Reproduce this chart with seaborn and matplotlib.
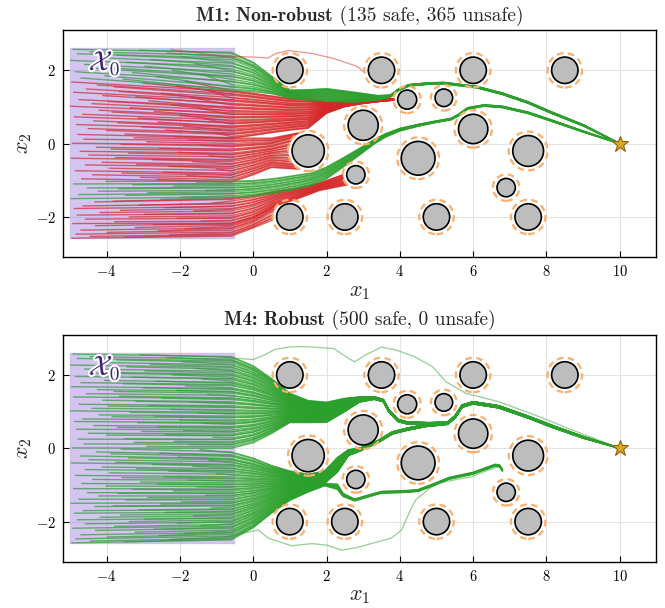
import numpy as np
import pandas as pd
import matplotlib
matplotlib.use("Agg")
import matplotlib.pyplot as plt
import matplotlib.patheffects as pe
from matplotlib.patches import Circle, Rectangle
import seaborn as sns

# ---------------- data ----------------
# obstacles: centre x, centre y, radius
obs_x = [1.0, 3.5, 6.0, 8.5, 4.2, 5.2, 3.0, 6.0, 1.5, 4.5, 7.5, 2.8, 6.9, 1.0, 2.5, 5.0, 7.5]
obs_y = [2.0, 2.0, 2.0, 2.0, 1.2, 1.25, 0.5, 0.4, -0.2, -0.4, -0.2, -0.85, -1.2, -2.0, -2.0, -2.0, -2.0]
obs_r = [0.36, 0.36, 0.36, 0.36, 0.26, 0.24, 0.41, 0.40, 0.44, 0.46, 0.42, 0.25, 0.25, 0.36, 0.36, 0.36, 0.36]
safety_margin = 0.11
goal_x, goal_y = 10.0, 0.0
box_x = [-5.0, -0.5]
box_y = [-2.6, 2.6]

# initial states (left ends of the trajectories), same samples in both panels
start_x = [-4.92, -3.10, -4.45, -2.35, -4.80, -3.72, -1.95, -4.15, -2.80, -4.98,
           -3.45, -1.60, -4.60, -2.95, -3.90, -4.30, -2.20, -4.85, -3.30, -1.40,
           -4.05, -2.65, -4.70, -3.55, -1.85, -4.95, -3.00, -4.25, -2.10, -3.80,
           -4.55, -1.25, -3.65, -4.90, -2.50, -4.10, -3.20, -1.70, -4.75, -2.85,
           -3.95, -4.40, -2.25, -4.99, -3.35, -1.50, -4.20, -2.70, -3.85, -4.65,
           -2.00, -4.88, -3.15, -1.35, -4.35, -2.60, -3.70, -4.82, -1.90, -3.05,
           -4.50, -2.40, -4.00, -1.10, -3.50, -4.78, -2.15, -3.25, -4.62, -1.75,
           -2.90, -4.93, -3.60, -1.45, -4.28, -2.55, -3.88, -4.72, -2.05, -3.40,
           -4.48, -1.20, -3.75, -4.96, -2.75, -1.65, -4.12, -3.18, -4.58, -2.30,
           -3.92, -1.00, -4.85, -2.45, -3.58, -4.38, -1.80, -3.08, -4.68, -2.62,
           -4.02, -1.55, -4.90, -3.28, -2.18, -4.52, -3.68, -1.30, -4.22, -2.88,
           -4.76, -3.48, -1.95, -4.97, -2.52, -3.82, -4.32, -1.15, -3.12, -4.64,
           -2.40, -4.88, -3.62, -1.62, -4.18, -2.98, -4.80, -3.38, -2.08, -4.58,
           -1.42, -3.78, -4.92, -2.72, -4.30, -3.22, -1.88, -4.70, -2.58, -3.98,
           -4.84, -2.28, -4.45, -3.52, -4.95]
start_y = [2.57, 2.55, 2.50, 2.47, 2.45, 2.41, 2.36, 2.34, 2.29, 2.27,
           2.22, 2.18, 2.16, 2.11, 2.07, 2.05, 2.00, 1.96, 1.94, 1.89,
           1.85, 1.83, 1.79, 1.76, 1.70, 1.68, 1.65, 1.60, 1.58, 1.55,
           1.49, 1.47, 1.42, 1.40, 1.37, 1.31, 1.28, 1.26, 1.20, 1.17,
           1.15, 1.09, 1.06, 1.02, 0.98, 0.97, 0.91, 0.88, 0.86, 0.80,
           0.77, 0.73, 0.70, 0.68, 0.62, 0.59, 0.57, 0.52, 0.48, 0.46,
           0.41, 0.37, 0.36, 0.30, 0.26, 0.25, 0.19, 0.16, 0.12, 0.10,
           0.05, 0.01, -0.02, -0.04, -0.10, -0.13, -0.15, -0.21, -0.24, -0.26,
           -0.31, -0.33, -0.38, -0.40, -0.44, -0.49, -0.51, -0.56, -0.58, -0.62,
           -0.67, -0.69, -0.74, -0.78, -0.80, -0.85, -0.87, -0.92, -0.96, -0.98,
           -1.03, -1.05, -1.10, -1.12, -1.16, -1.21, -1.23, -1.28, -1.30, -1.34,
           -1.39, -1.41, -1.46, -1.50, -1.52, -1.57, -1.59, -1.63, -1.68, -1.70,
           -1.75, -1.77, -1.82, -1.84, -1.88, -1.93, -1.95, -2.00, -2.04, -2.06,
           -2.11, -2.13, -2.18, -2.21, -2.24, -2.29, -2.32, -2.36, -2.38, -2.42,
           -2.47, -2.49, -2.53, -2.55, -2.58]

# ---- M1 (non-robust): bundles from top to bottom ----
m1_sizes = [24, 42, 34, 15, 19, 11]
m1_safe = [True, False, False, True, False, False]
m1_ring_obstacle = [None, None, 8, None, 11, 13]
m1_ring_angle = [0, 0, 180, 0, 205, 160]
m1_ring_span = [0, 0, 130, 0, 50, 60]

m1_gup_x = [-0.6, 0.0, 0.5, 0.8, 1.0, 1.5, 2.0, 2.7, 3.4, 3.75, 3.95, 4.25, 4.8, 5.2, 6.1, 6.8, 7.5, 8.1, 9.0, 10.0]
m1_gup_y = [1.97, 1.82, 1.60, 1.45, 1.35, 1.33, 1.33, 1.27, 1.25, 1.30, 1.46, 1.59, 1.64, 1.65, 1.54, 1.36, 1.12, 0.86, 0.50, 0.00]
m1_gup_w = [1.04, 0.80, 0.48, 0.32, 0.22, 0.28, 0.34, 0.28, 0.12, 0.05, 0.04, 0.04, 0.04, 0.04, 0.04, 0.04, 0.04, 0.04, 0.03, 0.0]

m1_rup_x = [-0.6, 0.0, 0.5, 1.0, 1.5, 2.0, 2.5, 3.0, 3.5, 3.83]
m1_rup_y = [0.80, 0.80, 0.80, 0.80, 0.82, 0.98, 1.09, 1.14, 1.18, 1.20]
m1_rup_w = [1.30, 1.15, 1.00, 0.86, 0.80, 0.30, 0.16, 0.09, 0.05, 0.03]

m1_rc9_x = [-0.6, 0.0, 0.5]
m1_rc9_y = [-0.45, -0.35, -0.25]
m1_rc9_w = [1.20, 1.00, 0.80]

m1_glow_x = [-0.6, 0.0, 0.6, 1.2, 1.6, 2.0, 2.4, 2.9, 3.3, 3.6, 4.0, 4.5, 5.0, 5.4, 5.6, 5.85, 6.3, 6.8, 7.5, 8.1, 9.0, 10.0]
m1_glow_y = [-1.25, -1.22, -1.15, -1.05, -0.97, -0.80, -0.55, -0.22, 0.05, 0.22, 0.38, 0.50, 0.60, 0.67, 0.78, 0.96, 1.04, 1.00, 0.84, 0.64, 0.33, 0.00]
m1_glow_w = [0.45, 0.42, 0.40, 0.38, 0.34, 0.32, 0.26, 0.18, 0.12, 0.09, 0.07, 0.05, 0.04, 0.04, 0.04, 0.04, 0.04, 0.04, 0.04, 0.04, 0.03, 0.00]

m1_rc12_x = [-0.6, 0.0, 0.6, 1.2, 1.8]
m1_rc12_y = [-1.85, -1.72, -1.50, -1.36, -1.18]
m1_rc12_w = [0.70, 0.60, 0.40, 0.30, 0.20]

m1_rc14_x = [-0.6, 0.0]
m1_rc14_y = [-2.35, -2.15]
m1_rc14_w = [0.35, 0.30]

m1_out_x = [-2.25, -0.8, 0.0, 0.4, 0.6, 0.95, 1.6, 2.2, 2.85, 3.05]
m1_out_y = [2.57, 2.38, 2.36, 2.33, 2.45, 2.54, 2.46, 2.32, 2.10, 1.93]

# ---- M4 (robust): upper bundle, lower bundle splitting in two branches ----
m4_sizes = [72, 61, 12]

m4_up_x = [-0.6, 0.0, 0.5, 1.0, 1.5, 2.0, 2.5, 2.9, 3.3, 3.55, 3.7, 3.95, 4.2, 4.8, 5.3, 5.5, 5.7, 6.0, 6.7, 7.5, 8.2, 9.0, 10.0]
m4_up_y = [1.25, 1.20, 1.15, 1.10, 1.00, 0.98, 1.18, 1.33, 1.37, 1.30, 1.02, 0.76, 0.69, 0.67, 0.69, 0.85, 1.15, 1.24, 1.13, 0.85, 0.58, 0.30, 0.00]
m4_up_w = [2.50, 2.10, 1.50, 0.80, 0.60, 0.55, 0.36, 0.14, 0.07, 0.06, 0.06, 0.06, 0.06, 0.06, 0.06, 0.06, 0.06, 0.06, 0.06, 0.05, 0.05, 0.04, 0.00]

m4_low_x = [-0.6, 0.0, 0.5, 1.0, 1.5, 1.95]
m4_low_y = [-1.30, -1.22, -1.12, -1.02, -0.95, -0.82]
m4_low_w = [2.40, 1.90, 1.30, 0.80, 0.48, 0.40]

m4_lowa_x = [2.3, 2.6, 2.9, 3.4, 3.8, 4.2, 4.7, 5.3]
m4_lowa_y = [-0.45, -0.12, -0.04, 0.18, 0.42, 0.52, 0.62, 0.68]
m4_lowa_w = [0.40, 0.16, 0.08, 0.06, 0.06, 0.06, 0.06, 0.06]

m4_lowb_x = [2.3, 2.45, 2.77, 3.14, 3.5, 4.14, 4.5, 4.9, 5.34, 6.0, 6.6, 6.72, 6.8]
m4_lowb_y = [-1.05, -1.27, -1.41, -1.30, -1.20, -1.18, -1.15, -1.00, -0.82, -0.68, -0.46, -0.48, -0.60]
m4_lowb_w = [0.15, 0.08, 0.05, 0.05, 0.05, 0.05, 0.05, 0.05, 0.05, 0.05, 0.05, 0.05, 0.05]

m4_outtop_x = [-0.8, 0.0, 0.32, 0.6, 1.05, 1.5, 2.2, 2.6, 2.77, 3.05, 3.5, 3.9, 4.4, 4.9, 5.25, 5.8, 6.7, 7.7, 8.7, 10.0]
m4_outtop_y = [2.48, 2.42, 2.55, 2.70, 2.77, 2.77, 2.72, 2.45, 2.36, 2.54, 2.76, 2.68, 2.50, 2.22, 1.82, 1.50, 1.27, 0.90, 0.50, 0.00]
m4_outbot_x = [-0.8, 0.14, 0.41, 1.05, 1.6, 2.0, 2.43, 2.86, 3.4, 3.77, 4.05, 4.25, 4.43, 4.8, 5.07, 5.5, 5.98, 6.4, 6.7, 6.8]
m4_outbot_y = [-2.42, -2.23, -2.45, -2.66, -2.60, -2.64, -2.78, -2.70, -2.55, -2.45, -2.23, -1.77, -1.41, -1.10, -0.95, -0.86, -0.77, -0.60, -0.50, -0.60]

titles_bold = ["M1: Non-robust", "M4: Robust"]
titles_rest = [" (135 safe, 365 unsafe)", " (500 safe, 0 unsafe)"]

GREEN = "#2ca02c"
RED = "#d62728"

# ---------------- helpers ----------------
order = sorted(range(len(start_y)), key=lambda i: -start_y[i])
SX = [start_x[i] for i in order]
SY = [start_y[i] for i in order]


def norm_u(vals):
    lo, hi = min(vals), max(vals)
    mid = 0.5 * (lo + hi)
    return [(v - mid) / (hi - lo) if hi > lo else 0.0 for v in vals]


def route(u, rx, ry, rw):
    return [(x, y + u * w) for x, y, w in zip(rx, ry, rw)]


def ring_point(u, k, ang, span):
    a = np.deg2rad(ang - u * span)
    R = obs_r[k] + safety_margin
    return (obs_x[k] + R * np.cos(a), obs_y[k] + R * np.sin(a))


def groups(sizes):
    out, i = [], 0
    for n in sizes:
        out.append(list(range(i, i + n)))
        i += n
    return out


def to_df(paths):
    rows = []
    for k, p in enumerate(paths):
        for (x, y) in p:
            rows.append((k, x, y))
    return pd.DataFrame(rows, columns=["traj", "x", "y"])


def draw_paths(ax, paths, color, lw, alpha, z=2):
    if not paths:
        return
    sns.lineplot(data=to_df(paths), x="x", y="y", units="traj", estimator=None,
                 sort=False, color=color, linewidth=lw, alpha=alpha, ax=ax,
                 legend=False, zorder=z)


# ---------------- build trajectories ----------------
m1_routes = [(m1_gup_x, m1_gup_y, m1_gup_w), (m1_rup_x, m1_rup_y, m1_rup_w),
             (m1_rc9_x, m1_rc9_y, m1_rc9_w), (m1_glow_x, m1_glow_y, m1_glow_w),
             (m1_rc12_x, m1_rc12_y, m1_rc12_w), (m1_rc14_x, m1_rc14_y, m1_rc14_w)]
m1_green, m1_red = [], []
for g, idx in enumerate(groups(m1_sizes)):
    us = norm_u([SY[i] for i in idx])
    rx, ry, rw = m1_routes[g]
    for u, i in zip(us, idx):
        p = [(SX[i], SY[i])] + route(u, rx, ry, rw)
        if m1_ring_obstacle[g] is not None:
            p.append(ring_point(u, m1_ring_obstacle[g], m1_ring_angle[g], m1_ring_span[g]))
        (m1_green if m1_safe[g] else m1_red).append(p)

m4_green = []
g_up, g_a, g_b = groups(m4_sizes)
for u, i in zip(norm_u([SY[i] for i in g_up]), g_up):
    m4_green.append([(SX[i], SY[i])] + route(u, m4_up_x, m4_up_y, m4_up_w))
low_all = g_a + g_b
u_all = dict(zip(low_all, norm_u([SY[i] for i in low_all])))
tail = [k for k, x in enumerate(m4_up_x) if x > m4_lowa_x[-1]]
for u, i in zip(norm_u([SY[i] for i in g_a]), g_a):
    p = [(SX[i], SY[i])] + route(u_all[i], m4_low_x, m4_low_y, m4_low_w)
    p += route(u, m4_lowa_x, m4_lowa_y, m4_lowa_w)
    p += route(u, [m4_up_x[k] for k in tail], [m4_up_y[k] for k in tail], [m4_up_w[k] for k in tail])
    m4_green.append(p)
for u, i in zip(norm_u([SY[i] for i in g_b]), g_b):
    p = [(SX[i], SY[i])] + route(u_all[i], m4_low_x, m4_low_y, m4_low_w)
    p += route(u, m4_lowb_x, m4_lowb_y, m4_lowb_w)
    m4_green.append(p)

# ---------------- style ----------------
sns.set_theme(style="whitegrid")
plt.rcParams.update({
    "font.family": ["cmr10"],
    "mathtext.fontset": "cm",
    "axes.formatter.use_mathtext": True,
    "axes.edgecolor": "black",
    "axes.linewidth": 1.0,
    "grid.color": "#e3e3e3",
    "grid.linewidth": 0.8,
})

fig = plt.figure(figsize=(6.65, 6.08), dpi=100)
ax1 = fig.add_axes([0.094, 0.5768, 0.8932, 0.374])
ax2 = fig.add_axes([0.094, 0.0757, 0.8932, 0.374])

LW, AL = 1.0, 0.72
draw_paths(ax1, m1_red, RED, LW, AL)
draw_paths(ax1, m1_green, GREEN, LW, AL)
draw_paths(ax1, [list(zip(m1_out_x, m1_out_y))], RED, 0.9, 0.5)
draw_paths(ax2, m4_green, GREEN, LW, AL)
draw_paths(ax2, [list(zip(m4_outtop_x, m4_outtop_y)), list(zip(m4_outbot_x, m4_outbot_y))],
           GREEN, 0.9, 0.5)

title_texts = []
for n, ax in enumerate([ax1, ax2]):
    ax.add_patch(Rectangle((box_x[0], box_y[0]), box_x[1] - box_x[0], box_y[1] - box_y[0],
                           facecolor="#9370db", alpha=0.32, edgecolor="none", zorder=1.5))
    ax.add_patch(Rectangle((box_x[0], box_y[0]), box_x[1] - box_x[0], box_y[1] - box_y[0],
                           facecolor="#9370db", alpha=0.12, edgecolor="#a58bd6", lw=1.2, zorder=2.6))
    for x, y, r in zip(obs_x, obs_y, obs_r):
        ax.add_patch(Circle((x, y), r, facecolor="#bdbdbd", edgecolor="black", lw=1.2, zorder=3))
        ax.add_patch(Circle((x, y), r + safety_margin, fill=False, edgecolor="#fdae6b",
                            lw=1.6, linestyle=(0, (3, 2)), zorder=3))
    ax.plot([goal_x], [goal_y], marker="*", markersize=12, markerfacecolor="#daa520",
            markeredgecolor="#8b6508", markeredgewidth=0.8, linestyle="none", zorder=6)
    ax.text(-4.05, 2.18, r"$\mathcal{X}_0$", color="#41207f", fontsize=20, ha="center",
            va="center", zorder=7,
            path_effects=[pe.withStroke(linewidth=3, foreground="white")])
    ax.set_xlim(-5.2, 11.0)
    ax.set_ylim(-3.1, 3.1)
    ax.set_aspect("equal", adjustable="box")
    ax.set_xticks([-4, -2, 0, 2, 4, 6, 8, 10])
    ax.set_yticks([-2, 0, 2])
    ax.tick_params(direction="in", length=4, width=0.8, colors="black", labelsize=10.5,
                   bottom=True, left=True, pad=5)
    ax.set_xlabel(r"$x_1$", fontsize=16, labelpad=2)
    ax.set_ylabel(r"$x_2$", fontsize=16, labelpad=1)
    ax.grid(True, zorder=0)
    ax.set_axisbelow(True)
    for s in ax.spines.values():
        s.set_color("black")
        s.set_linewidth(1.0)
    t1 = ax.text(0.5, 1.041, titles_bold[n], transform=ax.transAxes, fontfamily="cmb10",
                 fontsize=14, ha="left", va="baseline")
    t2 = ax.text(0.5, 1.041, titles_rest[n], transform=ax.transAxes, fontfamily="cmr10",
                 fontsize=14, ha="left", va="baseline")
    title_texts.append((ax, t1, t2))

fig.canvas.draw()
r = fig.canvas.get_renderer()
for ax, t1, t2 in title_texts:
    w1 = t1.get_window_extent(r).width
    w2 = t2.get_window_extent(r).width
    aw = ax.get_window_extent(r).width
    x0 = 0.5 - 0.5 * (w1 + w2) / aw
    t1.set_x(x0)
    t2.set_x(x0 + w1 / aw)

fig.savefig("out.png", dpi=100)
